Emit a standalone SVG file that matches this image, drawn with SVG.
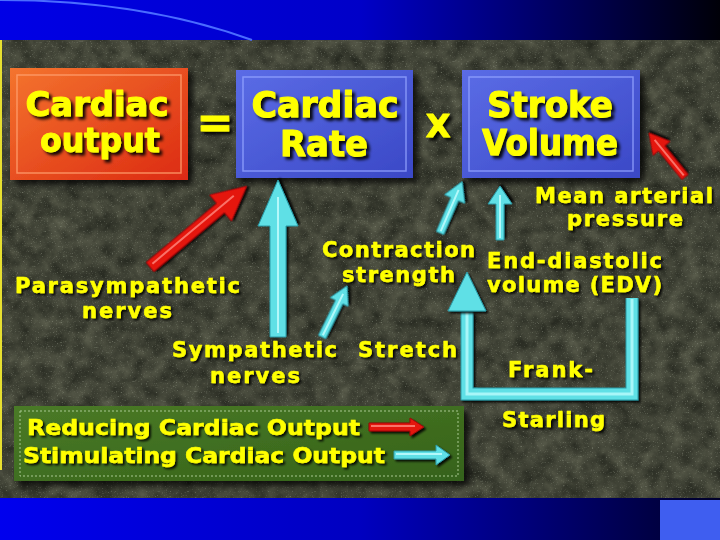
<svg xmlns="http://www.w3.org/2000/svg" width="720" height="540" viewBox="0 0 720 540">
<defs>
  <linearGradient id="bandTop" x1="0" y1="0" x2="1" y2="0">
    <stop offset="0" stop-color="#0000e6"/>
    <stop offset="0.5" stop-color="#0000c8"/>
    <stop offset="1" stop-color="#000008"/>
  </linearGradient>
  <linearGradient id="bandBot" x1="0" y1="0" x2="1" y2="0">
    <stop offset="0" stop-color="#0000ee"/>
    <stop offset="0.5" stop-color="#0000c0"/>
    <stop offset="1" stop-color="#000028"/>
  </linearGradient>
  <linearGradient id="gOrange" x1="0" y1="0" x2="1" y2="1">
    <stop offset="0" stop-color="#f4742e"/>
    <stop offset="1" stop-color="#dc2a12"/>
  </linearGradient>
  <linearGradient id="gBlue" x1="0" y1="0" x2="1" y2="1">
    <stop offset="0" stop-color="#5b6ce6"/>
    <stop offset="1" stop-color="#3a48c6"/>
  </linearGradient>
  <linearGradient id="gGreen" x1="0" y1="0" x2="1" y2="1">
    <stop offset="0" stop-color="#4a7a26"/>
    <stop offset="1" stop-color="#35621a"/>
  </linearGradient>
  <filter id="tex" x="0" y="0" width="100%" height="100%" color-interpolation-filters="sRGB">
    <feTurbulence type="fractalNoise" baseFrequency="0.06" numOctaves="5" seed="7" result="n"/>
    <feColorMatrix in="n" type="matrix" values="0.26 0 0 0 0.12  0.26 0 0 0 0.13  0.22 0 0 0 0.1  0 0 0 0 1"/>
  </filter>
  <filter id="speck" x="0" y="0" width="100%" height="100%" color-interpolation-filters="sRGB">
    <feTurbulence type="fractalNoise" baseFrequency="0.8" numOctaves="2" seed="11" result="n"/>
    <feColorMatrix in="n" type="matrix" values="0 0 0 0 0.6  0 0 0 0 0.62  0 0 0 0 0.55  3 0 0 0 -1.85"/>
  </filter>
  <filter id="sh" x="-10%" y="-10%" width="130%" height="140%">
    <feDropShadow dx="3" dy="3" stdDeviation="1.5" flood-color="#000" flood-opacity="0.9"/>
  </filter>
  <filter id="shs" x="-10%" y="-20%" width="130%" height="160%">
    <feDropShadow dx="2" dy="2" stdDeviation="1" flood-color="#000" flood-opacity="0.9"/>
  </filter>
  <filter id="shb" x="-10%" y="-10%" width="130%" height="130%">
    <feDropShadow dx="5" dy="5" stdDeviation="3" flood-color="#000" flood-opacity="0.75"/>
  </filter>
  <style>
    .big { font-family: "DejaVu Sans", "Liberation Sans", sans-serif; font-weight: bold; font-size: 35px; fill: #ffff00; stroke: #ffff00; stroke-width: 1; stroke-linejoin: round; text-anchor: middle; filter: url(#sh); }
    .lbl { font-family: "DejaVu Sans", "Liberation Sans", sans-serif; font-weight: bold; font-size: 21px; fill: #ffff00; stroke: #ffff00; stroke-width: 0.5; stroke-linejoin: round; text-anchor: middle; filter: url(#shs); }
    .leg { font-family: "DejaVu Sans Condensed", "DejaVu Sans", sans-serif; font-weight: bold; font-size: 22px; fill: #ffff00; stroke: #ffff00; stroke-width: 0.5; filter: url(#shs); }
    .inner { fill: none; stroke-width: 1.5; }
    .cyan { fill: #5fe0e6; stroke: #2a9aa6; stroke-width: 1; filter: url(#shs); }
    .red { fill: #e41410; stroke: #9a0a08; stroke-width: 1; filter: url(#shs); }
    .hlc { stroke: #c8ffff; stroke-width: 2; opacity: 0.8; }
    .hlr { stroke: #ff8a80; stroke-width: 2; opacity: 0.8; }
  </style>
</defs>

<!-- background -->
<rect x="0" y="40" width="720" height="460" fill="#3c3f35"/>
<rect x="0" y="40" width="720" height="460" filter="url(#tex)"/>
<rect x="0" y="40" width="720" height="460" filter="url(#speck)" opacity="0.6"/>
<rect x="0" y="0" width="720" height="40" fill="url(#bandTop)"/>
<path d="M0,0 C100,0 180,14 252,40" fill="none" stroke="#4a6cff" stroke-width="2"/>
<rect x="0" y="498" width="720" height="42" fill="url(#bandBot)"/>
<rect x="660" y="500" width="60" height="40" fill="#3f5ef0"/>
<rect x="0" y="40" width="2" height="430" fill="#e8e030"/>

<!-- nodes -->
<g id="n-cardiac-output">
  <rect x="10" y="68" width="178" height="112" fill="url(#gOrange)" filter="url(#shb)"/>
  <rect x="17" y="75" width="164" height="98" class="inner" stroke="#ffa070" opacity="0.8"/>
  <text class="big" x="97" y="116" textLength="143" lengthAdjust="spacingAndGlyphs" style="font-size:34px">Cardiac</text>
  <text class="big" x="100" y="152" textLength="120" lengthAdjust="spacingAndGlyphs" style="font-size:34px">output</text>
</g>
<g id="n-cardiac-rate">
  <rect x="236" y="70" width="177" height="108" fill="url(#gBlue)" filter="url(#shb)"/>
  <rect x="243" y="77" width="163" height="94" class="inner" stroke="#93a2ff" opacity="0.8"/>
  <text class="big" x="325" y="117" textLength="147" lengthAdjust="spacingAndGlyphs">Cardiac</text>
  <text class="big" x="324" y="156" textLength="88" lengthAdjust="spacingAndGlyphs">Rate</text>
</g>
<g id="n-stroke-volume">
  <rect x="462" y="70" width="178" height="108" fill="url(#gBlue)" filter="url(#shb)"/>
  <rect x="469" y="77" width="164" height="94" class="inner" stroke="#93a2ff" opacity="0.8"/>
  <text class="big" x="550" y="117" textLength="126" lengthAdjust="spacingAndGlyphs">Stroke</text>
  <text class="big" x="550" y="155" textLength="136" lengthAdjust="spacingAndGlyphs">Volume</text>
</g>
<g id="operators">
  <text class="big" x="215" y="137" style="font-size:44px">=</text>
  <text class="big" x="438" y="137" style="font-size:32px">X</text>
</g>
<g id="n-parasympathetic">
  <text class="lbl" x="127.5" y="293" textLength="225" lengthAdjust="spacing">Parasympathetic</text>
  <text class="lbl" x="127" y="318" textLength="90" lengthAdjust="spacing">nerves</text>
</g>
<g id="n-sympathetic">
  <text class="lbl" x="254.5" y="357" textLength="165" lengthAdjust="spacing">Sympathetic</text>
  <text class="lbl" x="255" y="383" textLength="90" lengthAdjust="spacing">nerves</text>
</g>
<g id="n-contraction">
  <text class="lbl" x="398.5" y="257" textLength="153" lengthAdjust="spacing">Contraction</text>
  <text class="lbl" x="398.5" y="282" textLength="113" lengthAdjust="spacing">strength</text>
</g>
<g id="n-edv">
  <text class="lbl" x="574.5" y="268" textLength="175" lengthAdjust="spacing">End-diastolic</text>
  <text class="lbl" x="574.5" y="292" textLength="175" lengthAdjust="spacing">volume (EDV)</text>
</g>
<g id="n-map">
  <text class="lbl" x="624" y="203" textLength="178" lengthAdjust="spacing">Mean arterial</text>
  <text class="lbl" x="625" y="226" textLength="116" lengthAdjust="spacing">pressure</text>
</g>
<g id="n-stretch">
  <text class="lbl" x="407.5" y="357" textLength="99" lengthAdjust="spacing">Stretch</text>
</g>
<g id="n-frank-starling">
  <text class="lbl" x="550.5" y="377" textLength="85" lengthAdjust="spacing">Frank-</text>
  <text class="lbl" x="553.5" y="427" textLength="103" lengthAdjust="spacing">Starling</text>
</g>

<!-- connectors -->
<g id="connectors">
  <g transform="translate(150,267) rotate(-39.9)">
    <polygon class="red" points="0,-6 92,-6 92,-17 126,0 92,17 92,6 0,6"/>
    <line class="hlr" x1="4" y1="-1" x2="110" y2="-1"/>
  </g>
  <g transform="translate(278,337) rotate(-90)">
    <polygon class="cyan" points="0,-8 111,-8 111,-20 157,0 111,20 111,8 0,8"/>
    <line class="hlc" x1="4" y1="0" x2="140" y2="0"/>
  </g>
  <g transform="translate(322,337) rotate(-63.9)">
    <polygon class="cyan" points="0,-4 39,-4 39,-10 57,0 39,10 39,4 0,4"/>
    <line class="hlc" x1="2" y1="0" x2="48" y2="0"/>
  </g>
  <g transform="translate(440,233) rotate(-66.7)">
    <polygon class="cyan" points="0,-4 37,-4 37,-11 56,0 37,11 37,4 0,4"/>
    <line class="hlc" x1="2" y1="0" x2="47" y2="0"/>
  </g>
  <g transform="translate(500,240) rotate(-90)">
    <polygon class="cyan" points="0,-4 36,-4 36,-12 54,0 36,12 36,4 0,4"/>
    <line class="hlc" x1="2" y1="0" x2="45" y2="0"/>
  </g>
  <g transform="translate(685,177) rotate(-129.3)">
    <polygon class="red" points="0,-4 37,-4 37,-11 57,0 37,11 37,4 0,4"/>
    <line class="hlr" x1="2" y1="0" x2="48" y2="0"/>
  </g>
  <g id="frank-starling-loop">
    <path d="M632,298 V394 H467 V312" fill="none" stroke="#2a9aa6" stroke-width="13" stroke-linejoin="miter" filter="url(#shs)"/>
    <path d="M632,298 V394 H467 V312" fill="none" stroke="#5fe0e6" stroke-width="11" stroke-linejoin="miter"/>
    <path d="M632,299 V394 H467 V312" fill="none" stroke="#c8ffff" stroke-width="3" opacity="0.7"/>
    <polygon class="cyan" points="448,311 467,272 486,311"/>
  </g>
</g>

<!-- legend -->
<g id="legend">
  <rect x="14" y="406" width="450" height="75" fill="url(#gGreen)" filter="url(#shb)"/>
  <rect x="20" y="411" width="438" height="65" fill="none" stroke="#a8c890" stroke-width="1" stroke-dasharray="2 2"/>
  <text class="leg" x="27" y="435" textLength="333" lengthAdjust="spacingAndGlyphs">Reducing Cardiac Output</text>
  <text class="leg" x="23" y="463" textLength="362" lengthAdjust="spacingAndGlyphs">Stimulating Cardiac Output</text>
  <g transform="translate(369,427)">
    <polygon class="red" points="0,-4 41,-4 41,-9 55,0 41,9 41,4 0,4"/>
    <line class="hlr" x1="2" y1="-1" x2="46" y2="-1"/>
  </g>
  <g transform="translate(394,455)">
    <polygon class="cyan" points="0,-4 42,-4 42,-10 56,0 42,10 42,4 0,4"/>
    <line class="hlc" x1="2" y1="-1" x2="48" y2="-1"/>
  </g>
</g>
</svg>
